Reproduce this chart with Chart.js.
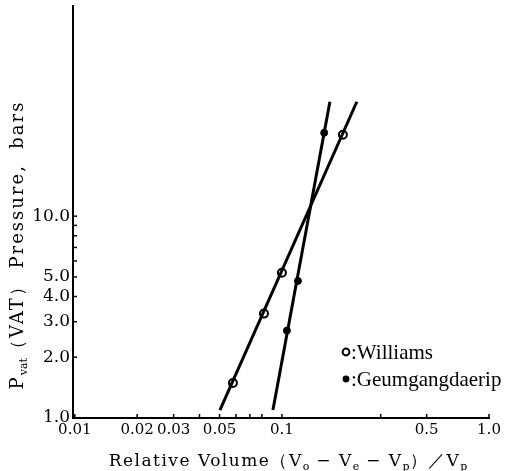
<!DOCTYPE html>
<html>
<head>
<meta charset="utf-8">
<script src="https://cdn.jsdelivr.net/npm/chart.js@4"></script>
<style>
  html, body { margin: 0; padding: 0; background: #fff; }
  #wrap { width: 521px; height: 471px; }
</style>
</head>
<body>
<div id="wrap"><canvas id="vatChart" width="521" height="471"></canvas></div>
<script>
// measured points (relative volume, pressure in bars)
const williamsX = [0.058, 0.0819, 0.100, 0.197];
const williamsY = [1.49, 3.29, 5.24, 25.3];
const geumX = [0.1057, 0.1195, 0.160];
const geumY = [2.71, 4.78, 25.9];

// fitted lines, end points
const williamsLineX = [0.0502, 0.230];
const williamsLineY = [1.095, 36.9];
const geumLineX = [0.0905, 0.1705];
const geumLineY = [1.095, 36.9];

// axis ticks
const xTicks = [0.01, 0.02, 0.03, 0.04, 0.05, 0.06, 0.07, 0.08, 0.1, 0.3, 0.5, 1.0];
const xLabels = { 0.01: "0.01", 0.02: "0.02", 0.03: "0.03", 0.05: "0.05", 0.1: "0.1", 0.5: "0.5", 1: "1.0" };
const yTicks = [1, 2, 3, 4, 5, 6, 7, 8, 9, 10];
const yLabels = { 1: "1.0", 2: "2.0", 3: "3.0", 4: "4.0", 5: "5.0", 10: "10.0" };

const pts = (xs, ys) => xs.map((x, i) => ({ x: x, y: ys[i] }));

const serif = "'DejaVu Serif', serif";

function drawRich(ctx, parts, cx, cy, size, spacing) {
    // parts: [text, isSub]
    const subSize = Math.round(size * 0.62);
    const setFont = p => {
        ctx.font = (p[1] ? subSize : size) + "px " + serif;
        ctx.letterSpacing = (p[1] ? 0 : spacing) + "px";
    };
    let total = 0;
    parts.forEach(p => { setFont(p); total += ctx.measureText(p[0]).width; });
    let x = cx - total / 2;
    ctx.textAlign = "left";
    ctx.textBaseline = "alphabetic";
    parts.forEach(p => {
        setFont(p);
        ctx.fillText(p[0], x, cy + (p[1] ? size * 0.22 : 0));
        x += ctx.measureText(p[0]).width;
    });
    ctx.letterSpacing = "0px";
}

const extras = {
    id: "extras",
    afterDraw(chart) {
        const ctx = chart.ctx;
        const xs = chart.scales.x, ys = chart.scales.y;
        const a = chart.chartArea;
        ctx.save();
        ctx.strokeStyle = "#000";
        ctx.fillStyle = "#000";
        ctx.lineWidth = 1.5;
        // small inward ticks
        xTicks.forEach(v => {
            const px = xs.getPixelForValue(v);
            ctx.beginPath(); ctx.moveTo(px, a.bottom); ctx.lineTo(px, a.bottom - 4); ctx.stroke();
        });
        yTicks.forEach(v => {
            const py = ys.getPixelForValue(v);
            ctx.beginPath(); ctx.moveTo(a.left, py); ctx.lineTo(a.left + 4, py); ctx.stroke();
        });

        // axis titles
        drawRich(ctx, [["Relative Volume\uFF08V", 0], ["o", 1], [" \u2212 V", 0], ["e", 1],
            [" \u2212 V", 0], ["p", 1], ["\uFF09\uFF0FV", 0], ["p", 1]], 288, 466, 17, 1.5);
        ctx.save();
        ctx.translate(23, 245);
        ctx.rotate(-Math.PI / 2);
        drawRich(ctx, [["P", 0], ["vat", 1], ["\uFF08VAT\uFF09 Pressure,  bars", 0]], 0, 0, 18, 2);
        ctx.restore();

        // legend
        ctx.font = "21px 'Liberation Serif', serif";
        ctx.textBaseline = "middle";
        ctx.textAlign = "left";
        ctx.lineWidth = 2;
        ctx.beginPath(); ctx.arc(346, 352, 3.4, 0, Math.PI * 2);
        ctx.fillStyle = "#fff"; ctx.fill(); ctx.stroke();
        ctx.fillStyle = "#000";
        ctx.fillText(":Williams", 351, 353);
        ctx.beginPath(); ctx.arc(346, 379, 3.4, 0, Math.PI * 2); ctx.fill();
        ctx.fillText(":Geumgangdaerip", 351, 380);
        ctx.restore();
    }
};

new Chart(document.getElementById("vatChart"), {
    type: "scatter",
    data: {
        datasets: [
            { label: "Williams fit", data: pts(williamsLineX, williamsLineY), showLine: true,
              borderColor: "#000", borderWidth: 3, pointRadius: 0 },
            { label: "Geumgangdaerip fit", data: pts(geumLineX, geumLineY), showLine: true,
              borderColor: "#000", borderWidth: 3, pointRadius: 0 },
            { label: "Williams", data: pts(williamsX, williamsY), pointRadius: 4,
              pointBackgroundColor: "#fff", pointBorderColor: "#000", pointBorderWidth: 2 },
            { label: "Geumgangdaerip", data: pts(geumX, geumY), pointRadius: 3.5,
              pointBackgroundColor: "#000", pointBorderColor: "#000", pointBorderWidth: 1 }
        ]
    },
    options: {
        responsive: false,
        animation: false,
        layout: { padding: { left: 0, right: 32, top: 4, bottom: 0 } },
        plugins: { legend: { display: false }, tooltip: { enabled: false } },
        scales: {
            x: {
                type: "logarithmic",
                min: 0.0098,
                max: 1.0,
                afterBuildTicks: s => { s.ticks = xTicks.map(v => ({ value: v })); },
                afterFit: s => { s.height = 53; },
                grid: { display: true, drawOnChartArea: false, drawTicks: false },
                border: { display: true, color: "#000", width: 2 },
                ticks: {
                    autoSkip: false, maxRotation: 0, padding: 3, color: "#000",
                    font: { family: serif, size: 15 },
                    callback: v => xLabels[v] || ""
                }
            },
            y: {
                type: "logarithmic",
                min: 1,
                max: 110,
                afterBuildTicks: s => { s.ticks = yTicks.map(v => ({ value: v })); },
                afterFit: s => { s.width = 73; s.paddingTop = 0; },
                grid: { display: true, drawOnChartArea: false, drawTicks: false },
                border: { display: true, color: "#000", width: 2 },
                ticks: {
                    autoSkip: false, padding: 3, color: "#000",
                    font: { family: serif, size: 17 },
                    callback: v => yLabels[v] || ""
                }
            }
        }
    },
    plugins: [extras]
});
</script>
</body>
</html>
